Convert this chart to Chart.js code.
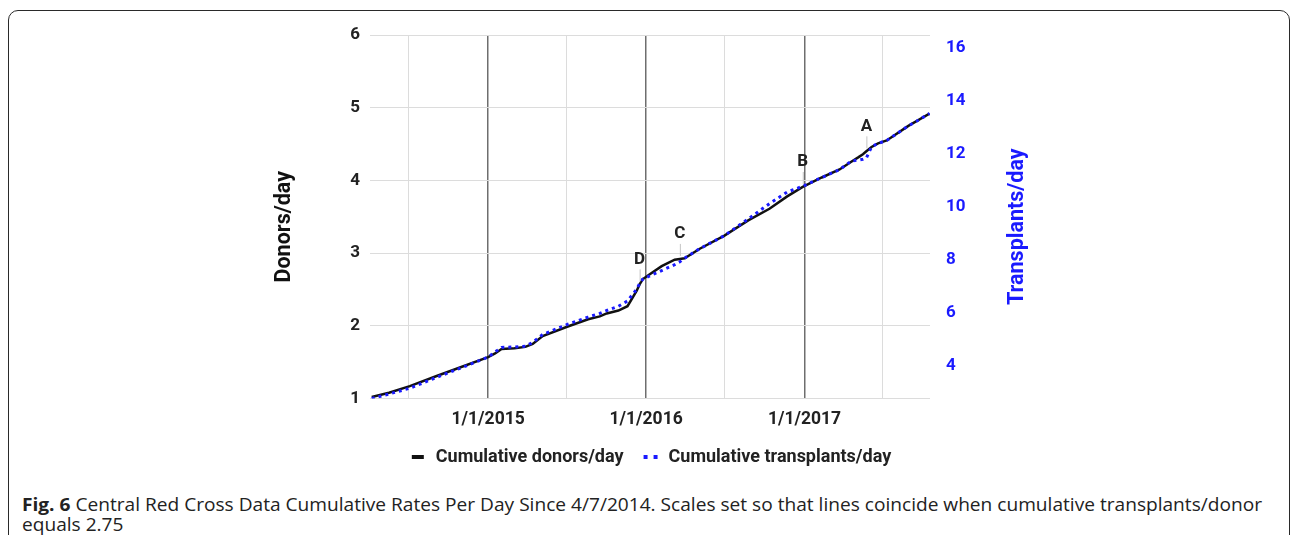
<!DOCTYPE html>
<html><head><meta charset="utf-8">
<script src="https://cdn.jsdelivr.net/npm/chart.js@4.4.1/dist/chart.umd.min.js"></script>
<style>
html,body{margin:0;padding:0;background:#fff;width:1295px;height:535px;overflow:hidden;}
#frame{position:absolute;left:8px;top:10px;width:1282px;height:600px;border:1.5px solid #2a2a2a;border-radius:10px;box-sizing:border-box;}
#wrap{position:absolute;left:0;top:0;width:1295px;height:484px;}
#caption{position:absolute;left:22px;top:494px;font-family:'Open Sans',sans-serif;font-size:18.5px;line-height:19.5px;color:#222;white-space:nowrap;transform-origin:0 0;}
#caption b{font-weight:700;}
</style></head><body>
<div id="frame"></div>
<div id="wrap"><canvas id="c"></canvas></div>
<div id="caption"><div><span id="l1"><b>Fig. 6</b> Central Red Cross Data Cumulative Rates Per Day Since 4/7/2014. Scales set so that lines coincide when cumulative transplants/donor</span></div><div>equals 2.75</div></div>
<script>
// days since 4/7/2014
const days = [0,40,88,150,210,269,285,300,330,355,372,395,453,500,527,543,570,591,612,619,626,640,670,700,712,723,758,815,870,919,960,996,1040,1081,1109,1125,1135,1143,1155,1170,1190,1240,1289];
const donorsPerDay = [1.02,1.08,1.17,1.31,1.44,1.57,1.62,1.68,1.69,1.71,1.75,1.86,1.99,2.09,2.13,2.17,2.21,2.27,2.48,2.57,2.64,2.70,2.82,2.91,2.92,2.93,3.06,3.24,3.45,3.61,3.78,3.91,4.04,4.15,4.26,4.32,4.36,4.40,4.46,4.51,4.55,4.75,4.92];
const transplantsPerDay = [2.75,2.92,3.14,3.55,3.93,4.32,4.51,4.68,4.70,4.73,4.87,5.17,5.56,5.83,5.97,6.08,6.24,6.44,6.88,7.10,7.26,7.37,7.59,7.81,7.92,8.06,8.42,8.91,9.54,10.12,10.56,10.78,11.11,11.41,11.74,11.77,11.80,11.85,12.27,12.40,12.51,13.06,13.53];
const yearTickDays = [269,634,1000];
const yearTickLabels = ['1/1/2015','1/1/2016','1/1/2017'];
const midYearTickDays = [85,450,816,1181];
const donorTicks = [1,2,3,4,5,6];
const transplantTicks = [4,6,8,10,12,14,16];
const annotationLetters = ['D','C','B','A'];
const annotationDays = [619,712,996,1143];
const seriesNames = ['Cumulative donors/day','Cumulative transplants/day'];
const axisTitles = ['Donors/day','Transplants/day'];

const BLACK = '#111111';
const BLUE = '#1a1aff';

function markerBlack(){const c=document.createElement('canvas');c.width=14;c.height=6;const x=c.getContext('2d');x.fillStyle=BLACK;x.fillRect(1,1,12,4);return c;}
function markerBlue(){const c=document.createElement('canvas');c.width=16;c.height=6;const x=c.getContext('2d');x.fillStyle=BLUE;x.fillRect(1,1,4,4);x.fillRect(11,1,4,4);return c;}

const overlay = {
  id:'overlay',
  afterDatasetsDraw(chart){
    const ctx = chart.ctx;
    const meta = chart.getDatasetMeta(0);
    ctx.save();
    annotationDays.forEach((d,k)=>{
      const i = days.indexOf(d);
      const pt = meta.data[i];
      if(!pt) return;
      ctx.strokeStyle='#c4c4c4'; ctx.lineWidth=1;
      ctx.beginPath(); ctx.moveTo(pt.x+0.5, pt.y-3); ctx.lineTo(pt.x+0.5, pt.y-15); ctx.stroke();
      ctx.fillStyle='#222'; ctx.font='bold 17px Roboto'; ctx.textAlign='center'; ctx.textBaseline='middle';
      ctx.fillText(annotationLetters[k], pt.x, pt.y-25);
    });
    ctx.restore();
  },
  afterDraw(chart){
    const ctx = chart.ctx;
    const cy = (chart.chartArea.top + chart.chartArea.bottom)/2 + 10;
    ctx.save();
    ctx.font='bold 21.5px Roboto'; ctx.textAlign='center'; ctx.textBaseline='middle';
    ctx.translate(chart.scales.y.left+16, cy); ctx.rotate(-Math.PI/2);
    ctx.fillStyle='#111'; ctx.fillText(axisTitles[0],0,0);
    ctx.restore();
    ctx.save();
    ctx.font='bold 21.5px Roboto'; ctx.textAlign='center'; ctx.textBaseline='middle';
    ctx.translate(chart.scales.y1.right-16, cy); ctx.rotate(-Math.PI/2);
    ctx.fillStyle=BLUE; ctx.fillText(axisTitles[1],0,0);
    ctx.restore();
  }
};

function build(){
  Chart.defaults.font.family='Roboto';
  const imgs=[markerBlack(),markerBlue()];
  new Chart(document.getElementById('c'),{
    type:'line',
    data:{datasets:[
      {label:seriesNames[0], data:days.map((d,i)=>({x:d,y:donorsPerDay[i]})), yAxisID:'y', borderColor:BLACK, backgroundColor:BLACK, borderWidth:2.5, pointRadius:0, tension:0, order:1},
      {label:seriesNames[1], data:days.map((d,i)=>({x:d,y:transplantsPerDay[i]})), yAxisID:'y1', borderColor:BLUE, backgroundColor:BLUE, borderWidth:3, borderDash:[3,4], borderCapStyle:'butt', pointRadius:0, tension:0, order:0}
    ]},
    options:{
      responsive:true, maintainAspectRatio:false, animation:false,
      layout:{padding:{left:269,right:261,top:35,bottom:8}},
      plugins:{
        tooltip:{enabled:false},
        legend:{position:'bottom', fullSize:false, labels:{usePointStyle:true, padding:18, color:'#222', font:{size:18,weight:'bold'},
          generateLabels:()=>seriesNames.map((n,i)=>({text:n, pointStyle:imgs[i], fillStyle:i?BLUE:BLACK, strokeStyle:i?BLUE:BLACK, lineWidth:0, hidden:false, datasetIndex:i, fontColor:'#222'}))}}
      },
      scales:{
        x:{type:'linear', min:-4, max:1290,
          afterBuildTicks:s=>{s.ticks=[...midYearTickDays,...yearTickDays].sort((a,b)=>a-b).map(v=>({value:v}));},
          afterFit:s=>{s.height=31.5;},
          ticks:{autoSkip:false, maxRotation:0, padding:11, color:'#222', font:{size:17.5,weight:'bold'},
            callback:v=>{const i=yearTickDays.indexOf(v);return i>=0?yearTickLabels[i]:'';}},
          grid:{drawTicks:false, color:c=>(c.tick&&yearTickDays.includes(c.tick.value))?'#6e6e6e':'#dcdcdc', lineWidth:c=>(c.tick&&yearTickDays.includes(c.tick.value))?1.5:1},
          border:{display:false}
        },
        y:{position:'left', min:1, max:6,
          afterBuildTicks:s=>{s.ticks=donorTicks.map(v=>({value:v}));},
          afterFit:s=>{s.width=101;},
          ticks:{padding:10, color:'#222', font:{size:17,weight:'bold'}},
          grid:{drawTicks:false, color:'#dcdcdc'}, border:{display:false}
        },
        y1:{position:'right', min:2.75, max:16.5,
          afterBuildTicks:s=>{s.ticks=transplantTicks.map(v=>({value:v}));},
          afterFit:s=>{s.width=104;},
          ticks:{padding:8, color:BLUE, font:{size:17,weight:'bold'}},
          grid:{display:false}, border:{display:false}
        }
      }
    },
    plugins:[overlay]
  });
  const l1=document.getElementById('l1');
  const w=l1.getBoundingClientRect().width;
  document.getElementById('caption').style.transform='scaleX('+(1240/w)+')';
}
Promise.all([document.fonts.load('bold 17px Roboto'),document.fonts.load('17px "Open Sans"'),document.fonts.load('bold 17px "Open Sans"')]).then(build,build);
</script>
</body></html>
